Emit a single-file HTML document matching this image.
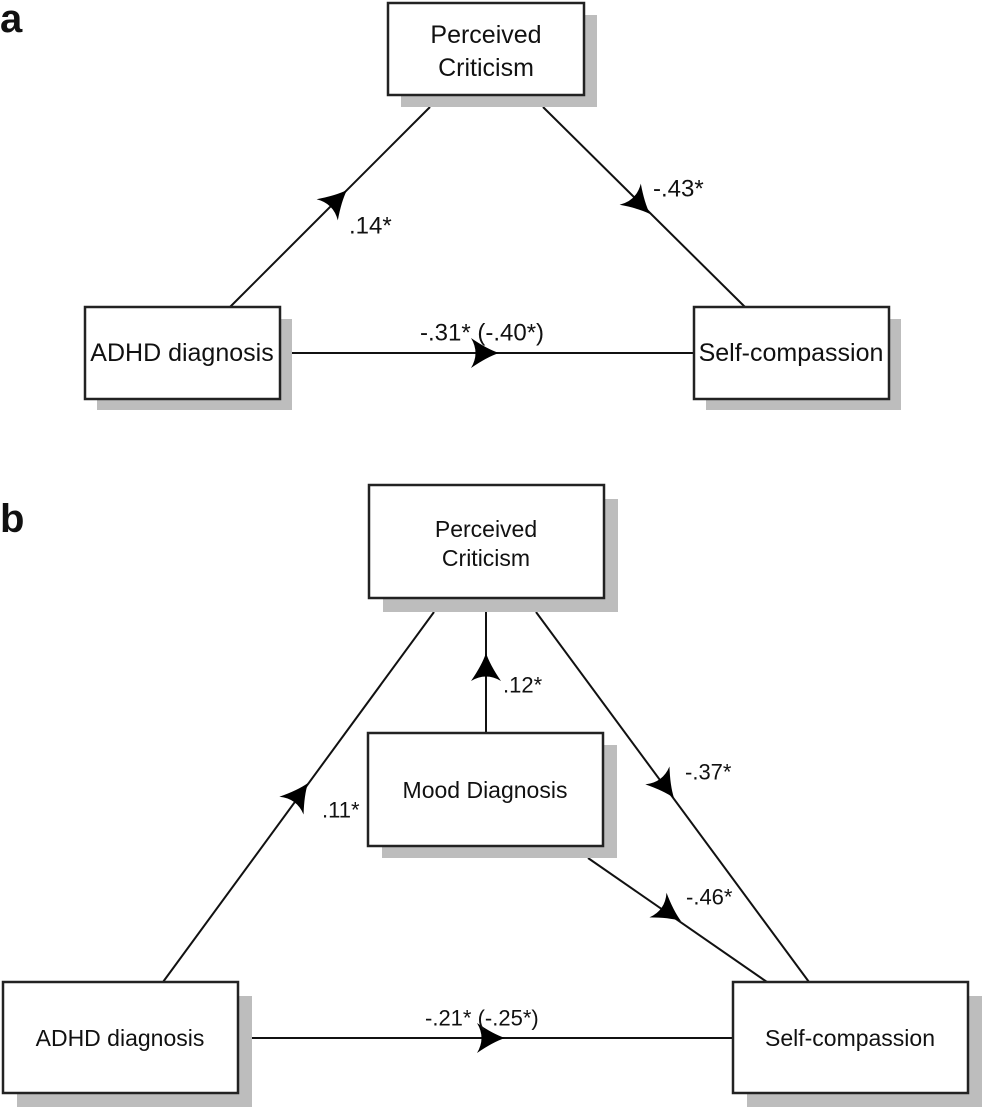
<!DOCTYPE html>
<html><head><meta charset="utf-8"><style>
html,body{margin:0;padding:0;background:#fff;}
svg{display:block;}
text{font-family:"Liberation Sans",Arial,sans-serif;fill:#111;}
</style></head><body>
<svg width="986" height="1110" viewBox="0 0 986 1110" xmlns="http://www.w3.org/2000/svg">
<defs>
<path id="ah" d="M0,0 Q-12,-4 -28,-15 Q-19,0 -28,15 Q-12,4 0,0 Z" fill="#000"/>
</defs>
<g stroke="#111" stroke-width="2" fill="none">
<line x1="230" y1="307" x2="430" y2="107"/>
<line x1="543" y1="107" x2="745" y2="307"/>
<line x1="292" y1="353" x2="694" y2="353"/>
<line x1="163" y1="982" x2="434" y2="612"/>
<line x1="486" y1="612" x2="486" y2="733"/>
<line x1="536" y1="612" x2="809" y2="982"/>
<line x1="588" y1="858" x2="767" y2="982"/>
<line x1="252" y1="1038" x2="733" y2="1038"/>
</g>
<g fill="#bdbdbd">
<rect x="401" y="15" width="196" height="92"/>
<rect x="97" y="319" width="195" height="91"/>
<rect x="706" y="319" width="195" height="91"/>
<rect x="383" y="499" width="235" height="113"/>
<rect x="382" y="745" width="235" height="113"/>
<rect x="17" y="996" width="235" height="111"/>
<rect x="747" y="996" width="235" height="111"/>
</g>
<g fill="#fff" stroke="#222" stroke-width="2.5">
<rect x="388" y="3" width="196" height="92"/>
<rect x="85" y="307" width="195" height="92"/>
<rect x="694" y="307" width="195" height="92"/>
<rect x="369" y="485" width="235" height="113"/>
<rect x="368" y="733" width="235" height="113"/>
<rect x="3" y="982" width="235" height="111"/>
<rect x="733" y="982" width="235" height="111"/>
</g>
<use href="#ah" transform="translate(347,190) rotate(-45)"/>
<use href="#ah" transform="translate(650,214) rotate(45)"/>
<use href="#ah" transform="translate(499,353)"/>
<use href="#ah" transform="translate(308,783) rotate(-53.8)"/>
<use href="#ah" transform="translate(486,653) rotate(-90)"/>
<use href="#ah" transform="translate(674,798) rotate(53.6)"/>
<use href="#ah" transform="translate(681,921) rotate(34.7)"/>
<use href="#ah" transform="translate(505,1038)"/>
<text x="0" y="32" font-size="40" font-weight="bold">a</text>
<text x="0" y="532" font-size="40" font-weight="bold">b</text>
<g text-anchor="middle" dominant-baseline="central">
<text x="486" y="35" font-size="25">Perceived</text>
<text x="486" y="68" font-size="25">Criticism</text>
<text x="182" y="353" font-size="25">ADHD diagnosis</text>
<text x="791" y="353" font-size="25">Self-compassion</text>
<text x="486" y="529" font-size="23">Perceived</text>
<text x="486" y="558" font-size="23">Criticism</text>
<text x="485" y="790" font-size="23">Mood Diagnosis</text>
<text x="120" y="1038" font-size="23">ADHD diagnosis</text>
<text x="850" y="1038" font-size="23">Self-compassion</text>
</g>
<g dominant-baseline="central">
<text x="349" y="226" font-size="24">.14*</text>
<text x="653" y="189" font-size="24">-.43*</text>
<text x="420" y="333" font-size="24">-.31* (-.40*)</text>
<text x="322" y="810" font-size="22">.11*</text>
<text x="503" y="685" font-size="22">.12*</text>
<text x="685" y="772" font-size="22">-.37*</text>
<text x="686" y="897" font-size="22">-.46*</text>
<text x="425" y="1018" font-size="22">-.21* (-.25*)</text>
</g>
</svg>
</body></html>
